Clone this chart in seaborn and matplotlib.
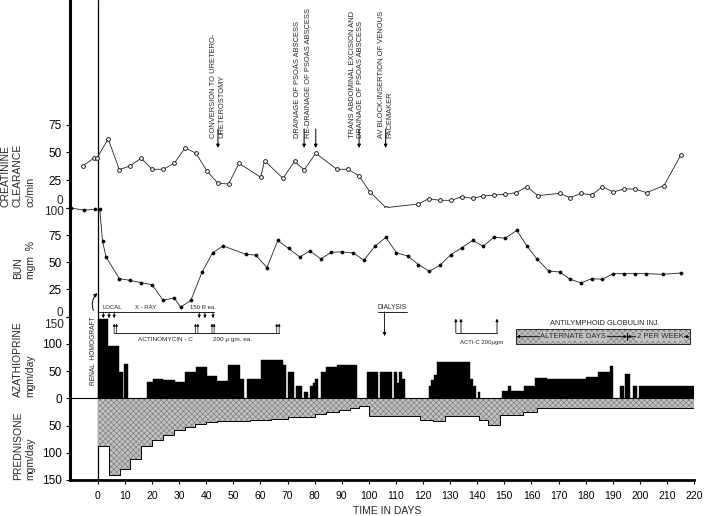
import numpy as np
import pandas as pd
import matplotlib
matplotlib.use("Agg")
import matplotlib.pyplot as plt
from matplotlib.patches import Rectangle
from matplotlib import transforms
import seaborn as sns

# creatinine clearance, cc/min
cr_day = [-5.6, -1.5, -0.3, 3.8, 7.9, 11.8, 16, 20, 24.1, 28.2,
          32.2, 36.2, 40.2, 44.3, 48.2, 52.1, 60.1, 61.5, 68.3, 72.6,
          76.1, 80.4, 88.2, 92.3, 96.4, 100.3, 106.3, 118.2, 122.1, 126.2,
          130.4, 134.3, 138.3, 142.3, 146.2, 150.3, 154.4, 158.3, 162.4, 170.4,
          174.3, 178.3, 182.3, 186.2, 190.2, 194.2, 198.2, 202.5, 208.9, 215.1]
cr_val = [37.8, 44.7, 45.2, 62, 34.5, 37.8, 44.7, 34.8, 34.8, 40.2,
          54.2, 49.2, 33.4, 22.2, 21.6, 40.2, 27.6, 42.5, 26.7, 42,
          34.2, 49.2, 34.8, 34.8, 28.9, 14.7, 0.3, 3.6, 8.4, 6.9,
          6.9, 10.2, 8.7, 10.8, 11.7, 12.3, 13.8, 19.2, 11.1, 13.2,
          9.3, 13.2, 11.7, 19.2, 14.4, 17.1, 17.1, 13.8, 20.1, 47.4]

# BUN, mgm %
bun_day = [-10, -5, -1.1, 0.7, 1.7, 3, 7.9, 11.8, 16, 20,
           24.1, 28.2, 30.5, 34.3, 38.4, 42.3, 46.2, 54.5, 58.3, 62.4,
           66.4, 70.4, 74.5, 78.2, 82.3, 86.2, 90.2, 94.2, 98.2, 102.2,
           106.3, 110.2, 114.3, 118.3, 122.3, 126.2, 130.3, 134.3, 138.3, 142.2,
           146.2, 150.3, 154.6, 158.3, 162.1, 166.4, 170.4, 174.3, 178.3, 182.3,
           186.2, 190.2, 194.2, 198.2, 202.2, 208.6, 215.1]
bun_val = [100, 98, 98.8, 98.8, 69.4, 55, 34.9, 33.3, 31.2, 29.3,
           14.8, 17.3, 8.6, 14.8, 40.7, 58.6, 65.1, 57.4, 56.5, 45.1,
           70.1, 62.7, 54.9, 60.4, 53.1, 59.3, 59.5, 58.6, 51.9, 64.8,
           72.9, 58.6, 55.8, 47.9, 41.7, 47.2, 57.1, 63.3, 70.1, 64.8,
           73.1, 72.2, 79.3, 65.1, 52.8, 42, 41, 34.3, 31, 34.9,
           34.3, 39.5, 39.5, 39.5, 39.5, 38.9, 40.1]

# azathioprine mgm/day, one bar per dosing period
aza_start = [0, 3.8, 7.9, 9.8, 18.2, 20.4, 24.2, 28.3, 32.1, 36.3,
             40.2, 44.1, 48, 52.3, 55, 60.1, 68.4, 70.2, 73.2, 76.2,
             78.4, 79.2, 80.1, 82.3, 84.1, 88.3, 99.2, 104.2, 109.2, 110.5,
             111.3, 112.4, 122.1, 123.1, 124.1, 125.3, 137.3, 138.3, 140.3, 149.3,
             151.2, 152.4, 157.3, 161.3, 165.6, 180.3, 184.6, 188.9, 192.6, 194.7,
             197.5, 199.6]
aza_end = [3.8, 7.9, 9.1, 11.2, 20.4, 24.2, 28.3, 32.1, 36.3, 40.2,
           44.1, 48, 52.3, 54, 60.1, 68.4, 69.3, 72.3, 75.3, 77.6,
           79.2, 80.1, 81.4, 84.1, 88.3, 95.5, 103.4, 108.5, 110.5, 111.3,
           112.4, 113.3, 123.1, 124.1, 125.3, 137.3, 138.3, 139.5, 141.2, 151.2,
           152.4, 157.3, 161.3, 165.6, 180.3, 184.6, 188.9, 190.2, 194.1, 196.3,
           198.8, 220]
aza_dose = [145, 96, 49, 62, 30, 36, 33, 30, 49, 58,
            41, 32, 61, 35, 35, 70, 61, 49, 23, 11,
            22, 28, 36, 49, 58, 61, 49, 49, 49, 28,
            49, 35, 22, 33, 43, 66, 36, 22, 11, 13,
            23, 13, 22, 38, 35, 39, 48, 59, 22, 45,
            22, 22]

# prednisone mgm/day, dose from each day until the next change
pred_day = [0, 4, 8, 12, 16, 20, 24, 28, 32, 36,
            40, 44, 56, 64, 70, 80, 84, 89, 93, 96.5,
            100, 119, 123.5, 128, 140.5, 144, 148.5, 157, 162]
pred_dose = [87, 140, 130, 111, 88, 77, 68, 58, 52, 47,
             43, 41, 39.5, 37.5, 35, 28.5, 26, 22, 18, 14,
             33, 39.5, 42.5, 33, 39.5, 49, 30, 26, 18]
pred_last_day = 220

# clinical events
event_text = ["CONVERSION TO URETERO-\nURETEROSTOMY",
              "DRAINAGE OF PSOAS ABSCESS",
              "RE-DRAINAGE OF PSOAS ABSCESS",
              "TRANS ABDOMINAL EXCISION AND\nDRAINAGE OF PSOAS ABSCESS",
              "AV BLOCK-INSERTION OF VENOUS\nPACEMAKER"]
event_day = [44.3, 76.1, 80.4, 96.4, 106.2]
xray_day = [2, 4.1, 6, 37.4, 39.5, 42.5]
actino_day = [6.0, 6.9, 36.0, 36.9, 42.1, 42.9, 66.0, 66.9]
actic_day = [132.1, 134, 147.3]
dialysis_day = 105.8
alg_start, alg_switch, alg_end = 154.2, 195.3, 218.7

day_ticks = list(range(0, 221, 10))

sns.set_style("ticks")
plt.rcParams["font.family"] = ["Liberation Sans", "DejaVu Sans"]
plt.rcParams["hatch.linewidth"] = 0.45

W, H = 709, 516
fig = plt.figure(figsize=(W / 100, H / 100), dpi=100)


def box(top, bottom):
    return [70 / W, 1 - bottom / H, 624 / W, (bottom - top) / H]


ax_cr = fig.add_axes(box(0, 208))
ax_bun = fig.add_axes(box(208, 316.5))
ax_drug = fig.add_axes(box(316.5, 480))

HATCH = "xxxxxx"
FACE = "#c2c2c2"
HCOL = "#7a7a7a"

for ax in (ax_cr, ax_bun, ax_drug):
    ax.set_xlim(-10.3, 220)
    for s in ("top", "right"):
        ax.spines[s].set_visible(False)
    ax.spines["left"].set_linewidth(2.2)
    ax.spines["left"].set_color("black")
    ax.axvline(0, color="black", lw=0.9, zorder=1)
    ax.tick_params(axis="y", direction="out", length=3, width=0.8,
                   labelsize=8.5, pad=3, colors="black")
for ax in (ax_cr, ax_bun):
    ax.spines["bottom"].set_visible(False)
    ax.tick_params(axis="x", bottom=False, labelbottom=False)


def shifted_label(ax, y, txt, dy_px):
    tr = transforms.blended_transform_factory(ax.transAxes, ax.transData)
    ax.text(0, y, txt, fontsize=8.5, ha="right", va="center",
            transform=tr + transforms.ScaledTranslation(-0.065, dy_px / 100, fig.dpi_scale_trans))


# creatinine clearance
cr = pd.DataFrame({"day": cr_day, "clearance": cr_val})
sns.lineplot(data=cr, x="day", y="clearance", ax=ax_cr, color="#222222", lw=0.6,
             marker="o", markersize=2.7, markerfacecolor="white",
             markeredgecolor="black", markeredgewidth=0.6, clip_on=False)
ax_cr.set_ylim(0, 187)
ax_cr.set_yticks([0, 25, 50, 75], labels=["", "25", "50", "75"])
ax_cr.set(xlabel="", ylabel="")
shifted_label(ax_cr, 0, "0", 6.5)

# BUN
bun = pd.DataFrame({"day": bun_day, "bun": bun_val})
sns.lineplot(data=bun, x="day", y="bun", ax=ax_bun, color="#222222", lw=0.6,
             marker="o", markersize=2.2, markerfacecolor="black",
             markeredgecolor="black", markeredgewidth=0.5, clip_on=False)
ax_bun.set_ylim(0, 100)
ax_bun.set_yticks([0, 25, 50, 75, 100], labels=["", "25", "50", "75", ""])
ax_bun.set(xlabel="", ylabel="")
shifted_label(ax_bun, 100, "100", -4.5)
shifted_label(ax_bun, 0, "0", 3.5)

# azathioprine bars and prednisone steps
ax_drug.bar(aza_start, aza_dose, width=np.subtract(aza_end, aza_start),
            align="edge", color="black", edgecolor="black", lw=0.3, zorder=2)
px = pred_day + [pred_last_day]
py = -np.array(pred_dose + [pred_dose[-1]])
ax_drug.fill_between(px, 0, py, step="post", facecolor=FACE, edgecolor=HCOL,
                     hatch=HATCH, lw=0, zorder=2)
ax_drug.step(px, py, where="post", color="black", lw=0.7, zorder=3)
ax_drug.axhline(0, color="black", lw=0.8, zorder=3)
ax_drug.set_ylim(-150, 150)
ax_drug.set_yticks([-150, -100, -50, 0, 50, 100, 150],
                   labels=["150", "100", "50", "0", "50", "100", ""])
shifted_label(ax_drug, 150, "150", -8)
ax_drug.set_xticks(day_ticks)
ax_drug.tick_params(axis="x", direction="out", length=3, width=0.8,
                    labelsize=7.5, pad=5, colors="black")
ax_drug.spines["bottom"].set_linewidth(2)
ax_drug.spines["bottom"].set_color("black")


def arrow(ax, x, y0, y1, lw=0.6, ms=5):
    ax.annotate("", xy=(x, y1), xytext=(x, y0), annotation_clip=False,
                arrowprops=dict(arrowstyle="-|>", color="black", lw=lw,
                                mutation_scale=ms, shrinkA=0, shrinkB=0))


# clinical events on top
event_text_x = [44.3, 73.7, 77.6, 95.4, 106.2]
for txt, tx, d in zip(event_text, event_text_x, event_day):
    ax_cr.text(tx, 63, txt, rotation=90, ha="center", va="bottom",
               multialignment="left", fontsize=5.4, linespacing=1.25)
    arrow(ax_cr, d, 71, 54, lw=0.7, ms=5)

# local x-ray
ax_drug.plot([0.4, 42.9], [158, 158], color="black", lw=0.6, clip_on=False)
for d in xray_day:
    arrow(ax_drug, d, 158, 147, ms=4)
ax_drug.text(5.5, 167, "LOCAL", fontsize=4.3, ha="center", va="center")
ax_drug.text(17.5, 167, "X - RAY", fontsize=4.3, ha="center", va="center")
ax_drug.text(38.7, 167, "150 R ea.", fontsize=4.3, ha="center", va="center")

# actinomycin-C
ax_drug.plot([6.0, 66.9], [119, 119], color="black", lw=0.6)
for d in actino_day:
    arrow(ax_drug, d, 119, 137, lw=0.5, ms=3.5)
ax_drug.text(24.9, 108, "ACTINOMYCIN - C", fontsize=4.6, ha="center", va="center")
ax_drug.text(49.8, 108, "200 \u03bc gm. ea.", fontsize=4.6, ha="center", va="center")

# renal homograft
ax_drug.text(-1.7, 25, "RENAL  HOMOGRAFT", rotation=90, fontsize=4.8,
             ha="center", va="bottom")
ax_drug.annotate("", xy=(-0.2, 193), xytext=(-1.7, 161), annotation_clip=False,
                 arrowprops=dict(arrowstyle="-|>", color="black", lw=0.7,
                                 mutation_scale=5, shrinkA=0, shrinkB=0,
                                 connectionstyle="arc3,rad=-0.3"))

# dialysis
ax_drug.text(108.7, 167, "DIALYSIS", fontsize=4.8, ha="center", va="center")
ax_drug.plot([103.3, 114], [158.5, 158.5], color="black", lw=0.6, clip_on=False)
arrow(ax_drug, dialysis_day, 158.5, 114, lw=0.6, ms=5)

# actinomycin-C second course
ax_drug.plot([actic_day[0], actic_day[-1]], [120, 120], color="black", lw=0.6)
for d in actic_day:
    arrow(ax_drug, d, 120, 146, lw=0.6, ms=4)
ax_drug.text(141.6, 102, "ACTI-C 200\u03bcgm", fontsize=4.3, ha="center", va="center")

# antilymphoid globulin
ax_drug.text(187, 137, "ANTILYMPHOID GLOBULIN INJ.", fontsize=5.3, ha="center", va="center")
ax_drug.add_patch(Rectangle((alg_start, 100), alg_end - alg_start, 26.3,
                            facecolor=FACE, edgecolor=HCOL, hatch=HATCH, lw=0))
ax_drug.add_patch(Rectangle((alg_start, 100), alg_end - alg_start, 26.3,
                            fill=False, edgecolor="#222222", lw=0.7))
for a, b in ((alg_start + 0.3, alg_switch), (alg_switch, alg_end - 0.3)):
    ax_drug.annotate("", xy=(b, 113), xytext=(a, 113),
                     arrowprops=dict(arrowstyle="<|-|>", color="black", lw=0.6,
                                     mutation_scale=4, shrinkA=0, shrinkB=0))
ax_drug.plot([alg_switch, alg_switch], [106, 120], color="black", lw=0.7)
bb = dict(facecolor=FACE, edgecolor="none", pad=0.6)
ax_drug.text(175.5, 113, "ALTERNATE DAYS", fontsize=5.5, ha="center", va="center", bbox=bb)
ax_drug.text(207.5, 113, "2 PER WEEK", fontsize=5.5, ha="center", va="center", bbox=bb)

# panel labels
lab = dict(rotation=90, ha="center", va="bottom", multialignment="left",
           fontsize=7.5, linespacing=1.3)
fig.text(18 / W, 1 - 207 / H, "CREATININE\nCLEARANCE\ncc/min", **lab)
fig.text(24.5 / W, 1 - 279 / H, "BUN\nmgm  %", **lab)
fig.text(24.5 / W, 1 - 397 / H, "AZATHIOPRINE\nmgm/day", **lab)
fig.text(24.5 / W, 1 - 480 / H, "PREDNISONE\nmgm/day", **lab)
fig.text(386.7 / W, 1 - 511 / H, "TIME IN DAYS", fontsize=7.5, ha="center", va="center")

fig.savefig("out.png", dpi=100)
